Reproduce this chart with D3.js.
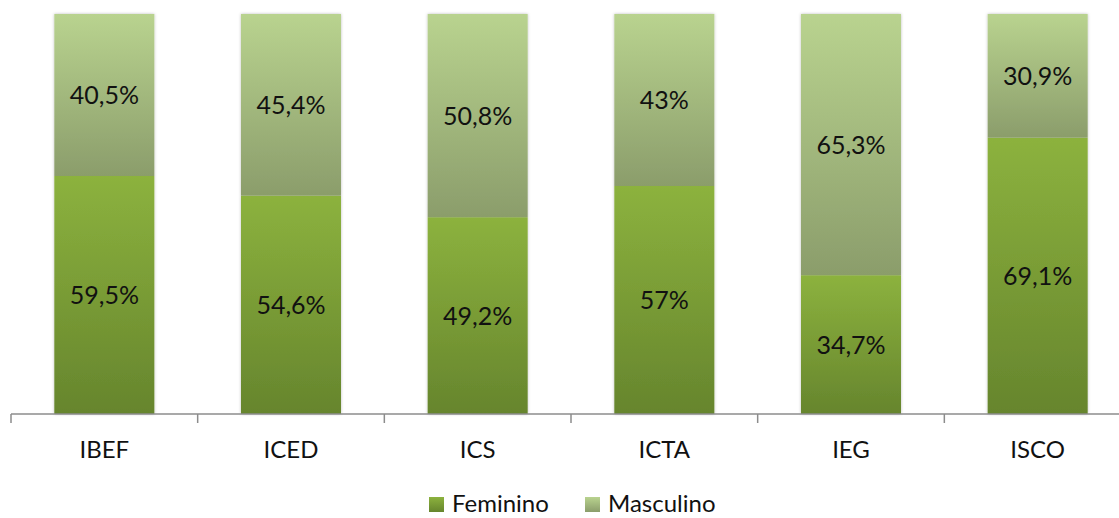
<!DOCTYPE html>
<html><head><meta charset="utf-8">
<script src="https://cdn.jsdelivr.net/npm/d3@7"></script>
<style>body{margin:0;background:#fff}svg{display:block}</style>
</head><body>
<svg id="c" width="1119" height="518"></svg>
<script>
const categories = ["IBEF","ICED","ICS","ICTA","IEG","ISCO"];
const feminino = [59.5,54.6,49.2,57,34.7,69.1];
const masculino = [40.5,45.4,50.8,43,65.3,30.9];
const femLabels = ["59,5%","54,6%","49,2%","57%","34,7%","69,1%"];
const mascLabels = ["40,5%","45,4%","50,8%","43%","65,3%","30,9%"];
const seriesNames = ["Feminino","Masculino"];

const svg = d3.select("#c");
const font = "Lato, 'DejaVu Sans', sans-serif";
const defs = svg.append("defs");
function grad(id, top, bottom){
  const g = defs.append("linearGradient").attr("id",id).attr("x1",0).attr("y1",0).attr("x2",0).attr("y2",1);
  g.append("stop").attr("offset","0%").attr("stop-color",top);
  g.append("stop").attr("offset","100%").attr("stop-color",bottom);
}
grad("gF","#8cb23e","#66852d");
grad("gM","#b9d38f","#8b9d6b");
const f = defs.append("filter").attr("id","sh").attr("x","-10%").attr("y","-5%").attr("width","120%").attr("height","110%");
f.append("feDropShadow").attr("dx",0).attr("dy",0).attr("stdDeviation",1.5).attr("flood-color","#000").attr("flood-opacity",0.25);

const x = d3.scaleBand().domain(categories).range([11, 1131]).paddingInner(0).paddingOuter(0);
const y = d3.scaleLinear().domain([0,100]).range([414,14]);
const bw = 100;

const data = categories.map((c,i)=>({c, f:feminino[i], m:masculino[i], fl:femLabels[i], ml:mascLabels[i]}));

const g = svg.append("g");
const bars = g.selectAll("g.bar").data(data).join("g").attr("class","bar").attr("filter","url(#sh)");
bars.append("rect")
  .attr("x",d=>x(d.c)+x.bandwidth()/2-bw/2).attr("width",bw)
  .attr("y",d=>y(d.f)).attr("height",d=>y(0)-y(d.f)).attr("fill","url(#gF)");
bars.append("rect")
  .attr("x",d=>x(d.c)+x.bandwidth()/2-bw/2).attr("width",bw)
  .attr("y",d=>y(d.f+d.m)).attr("height",d=>y(d.f)-y(d.f+d.m)).attr("fill","url(#gM)");

const lab = svg.append("g").attr("font-family",font).attr("font-size",25).attr("fill","#111").attr("text-anchor","middle");
lab.selectAll("text.f").data(data).join("text").attr("class","f")
  .attr("x",d=>x(d.c)+x.bandwidth()/2).attr("y",d=>(y(0)+y(d.f))/2).attr("dy","0.36em").text(d=>d.fl);
lab.selectAll("text.m").data(data).join("text").attr("class","m")
  .attr("x",d=>x(d.c)+x.bandwidth()/2).attr("y",d=>(y(d.f)+y(d.f+d.m))/2).attr("dy","0.36em").text(d=>d.ml);

// axis
const ax = svg.append("g").attr("transform","translate(0,414)")
  .call(d3.axisBottom(x).tickSize(0).tickPadding(0));
ax.select(".domain").attr("stroke","#8c8c8c").attr("stroke-width",1.5).attr("d","M11,0H1119");
ax.selectAll("text").attr("font-family",font).attr("font-size",24).attr("fill","#111").attr("dy",null).attr("y",44);
const tickPos = d3.range(categories.length+1).map(i=>x.range()[0]+i*x.step());
ax.selectAll("line.tk").data(tickPos).join("line").attr("class","tk")
  .attr("x1",d=>d).attr("x2",d=>d).attr("y1",0).attr("y2",9).attr("stroke","#8c8c8c").attr("stroke-width",1.5);

// legend
const leg = svg.append("g").attr("font-family",font).attr("font-size",24).attr("fill","#111");
const legX = [429, 585];
const legFill = ["url(#gF)","url(#gM)"];
seriesNames.forEach((n,i)=>{
  leg.append("rect").attr("x",legX[i]).attr("y",497).attr("width",15).attr("height",15).attr("fill",legFill[i]);
  leg.append("text").attr("x",legX[i]+23).attr("y",512).text(n);
});
</script>
</body></html>
